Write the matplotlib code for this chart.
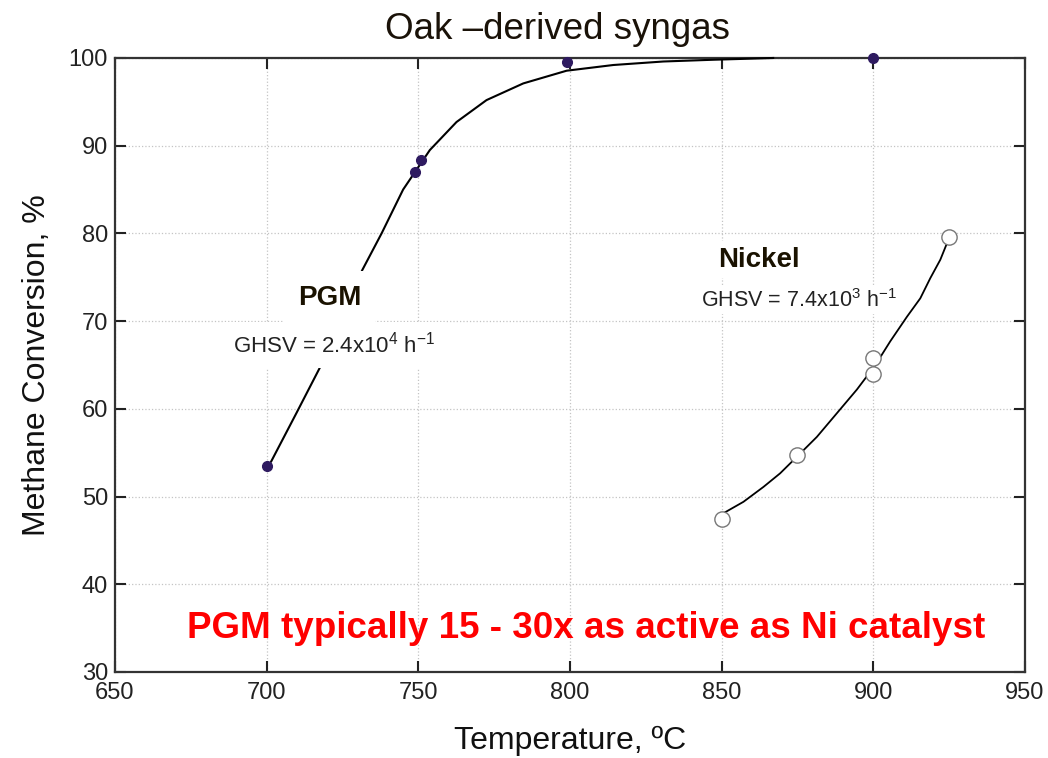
import matplotlib
matplotlib.use('agg')
import matplotlib.pyplot as plt

# measured points
pgm_temp = [700, 749, 751, 799, 900]
pgm_conv = [53.5, 87.0, 88.4, 99.5, 100.0]
ni_temp = [850, 875, 900, 900, 925]
ni_conv = [47.4, 54.7, 65.8, 64.0, 79.6]

# fitted curves
pgm_fit_temp = [701.5, 709.8, 718.6, 725.0, 731.5, 737.9, 745.0, 753.8, 762.6, 772.5,
                784.6, 798.9, 814.3, 830.8, 847.3, 867.0]
pgm_fit_conv = [54.0, 59.5, 65.4, 70.6, 75.8, 80.0, 85.0, 89.5, 92.7, 95.2,
                97.1, 98.55, 99.2, 99.6, 99.8, 100.0]
ni_fit_temp = [850.6, 857.2, 863.8, 869.3, 875.3, 881.4, 888.0, 894.6, 900.7,
               905.6, 911.1, 915.5, 918.8, 922.1, 924.9]
ni_fit_conv = [48.1, 49.4, 51.1, 52.65, 54.7, 56.8, 59.5, 62.2, 65.0,
               67.7, 70.5, 72.6, 74.9, 77.0, 79.4]

x_ticks = [650, 700, 750, 800, 850, 900, 950]
y_ticks = [30, 40, 50, 60, 70, 80, 90, 100]

plt.rcParams['font.family'] = ['Liberation Sans', 'DejaVu Sans']
plt.rcParams['mathtext.fontset'] = 'custom'
plt.rcParams['mathtext.rm'] = 'Liberation Sans'
plt.rcParams['mathtext.it'] = 'Liberation Sans'
plt.rcParams['mathtext.bf'] = 'Liberation Sans:bold'
plt.rcParams['mathtext.default'] = 'rm'

fig = plt.figure(figsize=(10.48, 7.58), dpi=100)
ax = fig.add_axes([0.1097, 0.1135, 0.8683, 0.8100])

ax.plot(pgm_fit_temp, pgm_fit_conv, color='black', lw=1.5, zorder=3, clip_on=False)
ax.plot(ni_fit_temp, ni_fit_conv, color='black', lw=1.3, zorder=3)
ax.plot(pgm_temp, pgm_conv, 'o', color='#2e1a60', ms=7, zorder=6, clip_on=False)
ax.plot(ni_temp, ni_conv, 'o', mfc='white', mec='#777777', mew=1.0, ms=11, zorder=4)

ax.set_xlim(650, 950)
ax.set_ylim(30, 100)
ax.set_xticks(x_ticks)
ax.set_yticks(y_ticks)
ax.grid(True, ls=':', color='#c4c4c4', lw=0.9)
ax.set_axisbelow(True)
ax.tick_params(direction='in', length=8, width=1.5, top=True, right=True,
               labelsize=17, colors='#222222')
ax.tick_params(axis='x', pad=7)
ax.tick_params(axis='y', pad=5)
for sp in ax.spines.values():
    sp.set_linewidth(1.6)
    sp.set_color('#333333')

ax.set_xlabel('Temperature, ºC', fontsize=23, labelpad=16, color='#111111')
ax.set_ylabel('Methane Conversion, %', fontsize=23, labelpad=12, color='#111111')
ax.set_title('Oak \u2013derived syngas', fontsize=26.5, pad=14, x=0.486, color='#1a1208')

ax.text(720.8, 72.6, 'PGM', fontsize=20, fontweight='bold', color='#1a1200',
        ha='center', va='center', zorder=5,
        bbox=dict(facecolor='white', edgecolor='none', pad=10))
ax.text(722.4, 67.3, 'GHSV = 2.4x10$^{4}$ h$^{-1}$', fontsize=16, color='#222222',
        ha='center', va='center', zorder=5,
        bbox=dict(facecolor='white', edgecolor='none', pad=7))
ax.text(862.3, 77.0, 'Nickel', fontsize=20, fontweight='bold', color='#1a1200',
        ha='center', va='center', zorder=5,
        bbox=dict(facecolor='white', edgecolor='none', pad=4))
ax.text(875.5, 72.4, 'GHSV = 7.4x10$^{3}$ h$^{-1}$', fontsize=15.5, color='#222222',
        ha='center', va='center', zorder=5,
        bbox=dict(facecolor='white', edgecolor='none', pad=2))
ax.text(805.3, 35.0, 'PGM typically 15 - 30x as active as Ni catalyst', fontsize=26.5,
        fontweight='bold', color='#ff0000', ha='center', va='center', zorder=5)

fig.savefig('out.png', dpi=100)
